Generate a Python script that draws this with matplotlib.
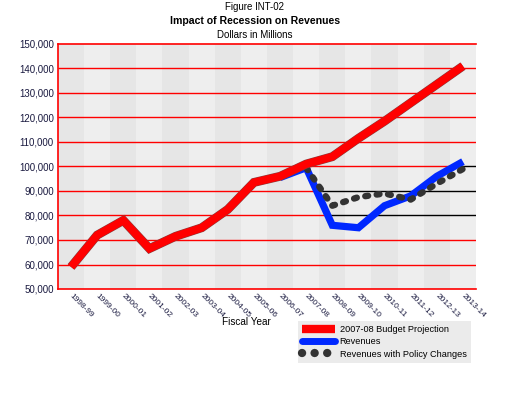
import numpy as np
import matplotlib
matplotlib.use('Agg')
import matplotlib.pyplot as plt
from matplotlib.lines import Line2D
from matplotlib.ticker import FuncFormatter
import matplotlib.patheffects as pe
import matplotlib.transforms as mtransforms

plt.rcParams['font.family'] = ['Liberation Sans', 'DejaVu Sans']

years = ["1998-99", "1999-00", "2000-01", "2001-02", "2002-03", "2003-04",
         "2004-05", "2005-06", "2006-07", "2007-08", "2008-09", "2009-10",
         "2010-11", "2011-12", "2012-13", "2013-14"]
budget = [59000, 72000, 78000, 66500, 71500, 75000, 82500, 93500, 96000,
          101000, 104000, 111500, 118500, 126000, 133500, 141000]
revenues = [np.nan] * 8 + [95500, 99500, 76000, 75000, 84000, 88000, 96000, 102000]
policy = [np.nan] * 9 + [99500, 84000, 87500, 89000, 86500, 93000, 99000]
grid_levels = [60000, 70000, 80000, 90000, 100000, 110000, 120000, 130000, 140000]

x = np.arange(len(years))
fig = plt.figure(figsize=(5.1, 3.95), dpi=100)
ax = fig.add_axes([58 / 510, 1 - 289 / 395, (476 - 58) / 510, (289 - 44) / 395])
ax.set_xlim(-0.5, len(years) - 0.5)
ax.set_ylim(50000, 150000)

# alternating bands
for i in x:
    ax.axvspan(i - 0.5, i + 0.5, color='#e6e6e6' if i % 2 == 0 else '#eeeeee', lw=0, zorder=0)

# gridlines: red, turning black from first crossing with revenue line
rev = np.array(revenues, dtype=float)
for lev in grid_levels:
    xc = None
    for i in range(len(rev) - 1):
        a, b = rev[i], rev[i + 1]
        if np.isnan(a) or np.isnan(b):
            continue
        if (a - lev) * (b - lev) <= 0 and a != b:
            xc = i + (lev - a) / (b - a)
            break
    xmax = len(years) - 0.5
    if xc is None:
        ax.hlines(lev, -0.5, xmax, color='#ff0000', lw=1.0, zorder=1)
    else:
        ax.hlines(lev, -0.5, xc, color='#ff0000', lw=1.0, zorder=1)
        ax.hlines(lev, xc, xmax, color='black', lw=1.0, zorder=1)

ax.plot(x, revenues, color='#0028ff', lw=5.2, solid_capstyle='butt', solid_joinstyle='miter', zorder=3)
ax.plot(x, policy, color='#333333', lw=4.6, linestyle=(0, (0.45, 1.35)),
        dash_capstyle='round', zorder=4)
ax.plot(x, budget, color='#ff0000', lw=5.6, solid_capstyle='butt', solid_joinstyle='miter', zorder=5,
        path_effects=[pe.Stroke(linewidth=6.4, foreground='#8a3a3a'), pe.Normal()])

for s in ['left', 'bottom', 'top']:
    ax.spines[s].set_color('#ff0000')
    ax.spines[s].set_linewidth(1.2)
ax.spines['right'].set_visible(False)

ax.set_yticks(np.arange(50000, 150001, 10000))
ax.yaxis.set_major_formatter(FuncFormatter(lambda v, p: f"{int(v):,}"))
ax.tick_params(axis='y', length=0, pad=3, labelsize=7, labelcolor='#1a1a40')
ax.set_xticks(x)
ax.set_xticklabels(years, rotation=-45, ha='left', va='top', rotation_mode='anchor',
                   fontsize=6, color='#1a1a40')
ax.tick_params(axis='x', length=0, pad=2.5)
shift = mtransforms.ScaledTranslation(2 / 100, 0, fig.dpi_scale_trans)
for lab in ax.get_xticklabels():
    lab.set_transform(lab.get_transform() + shift)

fig.text(0.5, 1 - 7 / 395, "Figure INT-02", ha='center', va='center', fontsize=7)
fig.text(0.5, 1 - 21 / 395, "Impact of Recession on Revenues", ha='center', va='center',
         fontsize=7.6, fontweight='bold')
fig.text(0.5, 1 - 34.5 / 395, "Dollars in Millions", ha='center', va='center', fontsize=7)
fig.text(246 / 510, 1 - 322 / 395, "Fiscal Year", ha='center', va='center', fontsize=7.2)

handles = [
    Line2D([], [], color='#ff0000', lw=6, solid_capstyle='butt'),
    Line2D([], [], color='#0028ff', lw=5, solid_capstyle='round'),
    Line2D([], [], color='#333333', lw=6, linestyle=(0, (0.01, 1.5)), dash_capstyle='round'),
]
labels = ["2007-08 Budget Projection", "Revenues", "Revenues with Policy Changes"]
leg = fig.legend(handles, labels, loc='upper left', bbox_to_anchor=(298 / 510, 1 - 321 / 395),
                 fontsize=6.6, frameon=True, fancybox=False, facecolor='#ebebeb', edgecolor='none',
                 framealpha=1, handlelength=3.6, handletextpad=0.5, labelspacing=0.35,
                 borderpad=0.45, borderaxespad=0)

fig.savefig('out.png', dpi=100)
